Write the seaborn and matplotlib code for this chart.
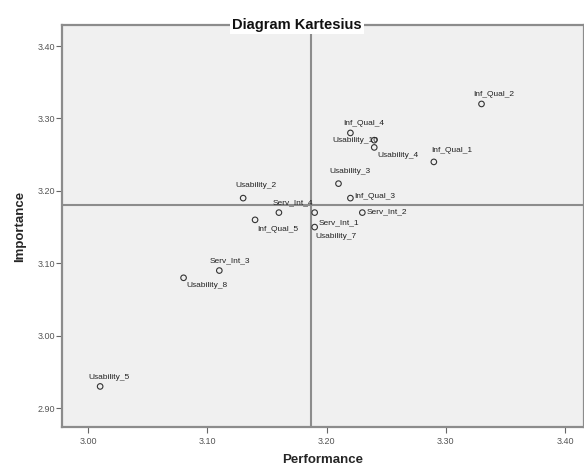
import matplotlib
matplotlib.use("Agg")
import matplotlib.pyplot as plt
import seaborn as sns
import pandas as pd
from matplotlib.ticker import FormatStrFormatter

# ---- data ----
attributes = ["Inf_Qual_2", "Inf_Qual_4", "Usability_10", "Usability_4", "Inf_Qual_1",
              "Usability_3", "Inf_Qual_3", "Serv_Int_2", "Serv_Int_1", "Usability_7",
              "Serv_Int_4", "Usability_2", "Inf_Qual_5", "Serv_Int_3", "Usability_8",
              "Usability_5"]
performance = [3.33, 3.22, 3.24, 3.24, 3.29, 3.21, 3.22, 3.23, 3.19, 3.19,
               3.16, 3.13, 3.14, 3.11, 3.08, 3.01]
importance = [3.32, 3.28, 3.27, 3.26, 3.24, 3.21, 3.19, 3.17, 3.17, 3.15,
              3.17, 3.19, 3.16, 3.09, 3.08, 2.93]
x_ticks = [3.00, 3.10, 3.20, 3.30, 3.40]
y_ticks = [2.90, 3.00, 3.10, 3.20, 3.30, 3.40]

df = pd.DataFrame({"Attribute": attributes, "Performance": performance,
                   "Importance": importance})

# label placement (pixel offsets from point, horizontal alignment)
label_pos = {
    "Inf_Qual_2": (12, 9, "center"),
    "Inf_Qual_4": (13, 9, "center"),
    "Usability_10": (4, 0, "right"),
    "Usability_4": (24, -8, "center"),
    "Inf_Qual_1": (18, 11, "center"),
    "Usability_3": (11, 12, "center"),
    "Inf_Qual_3": (4, 2, "left"),
    "Serv_Int_2": (4, 1, "left"),
    "Serv_Int_1": (4, -10, "left"),
    "Usability_7": (1, -9, "left"),
    "Serv_Int_4": (14, 10, "center"),
    "Usability_2": (13, 13, "center"),
    "Inf_Qual_5": (2, -10, "left"),
    "Serv_Int_3": (11, 10, "center"),
    "Usability_8": (3, -8, "left"),
    "Usability_5": (9, 9, "center"),
}

sns.set_style("white")
plt.rcParams["font.family"] = ["Liberation Sans", "DejaVu Sans"]

W, H = 584, 468
fig = plt.figure(figsize=(W / 100, H / 100), dpi=100)
ax = fig.add_axes([62 / W, 1 - 427 / H, (584 - 62) / W, (427 - 25) / H])
ax.set_facecolor("#f0f0f0")

line_col = "#8c8c8c"
ax.axvline(df["Performance"].mean(), color=line_col, lw=1.5, zorder=1)
ax.axhline(df["Importance"].mean(), color=line_col, lw=1.5, zorder=1)

sns.scatterplot(data=df, x="Performance", y="Importance", ax=ax,
                marker="o", s=16, facecolor="none", edgecolor="#333333",
                linewidth=0.8, zorder=3)

for name, px, py in zip(df["Attribute"], df["Performance"], df["Importance"]):
    dx, dy, ha = label_pos[name]
    ax.annotate(name, (px, py), xytext=(dx * 0.72, dy * 0.72),
                textcoords="offset points", ha=ha, va="center",
                fontsize=6, color="#222222", zorder=4)

ax.set_xlim(2.978, 3.416)
ax.set_ylim(2.874, 3.429)
ax.set_xticks(x_ticks)
ax.set_yticks(y_ticks)
ax.xaxis.set_major_formatter(FormatStrFormatter("%.2f"))
ax.yaxis.set_major_formatter(FormatStrFormatter("%.2f"))
ax.tick_params(axis="both", which="major", labelsize=6.5, labelcolor="#555555",
               length=4, width=0.8, color="#666666", direction="out")
ax.tick_params(axis="x", bottom=True, pad=3)
ax.tick_params(axis="y", left=True, pad=1)

for side in ["left", "bottom", "top", "right"]:
    ax.spines[side].set_color(line_col)
    ax.spines[side].set_linewidth(1.6)

ax.set_xlabel("Performance", fontsize=9.5, fontweight="bold", labelpad=6)
ax.set_ylabel("Importance", fontsize=9.5, fontweight="bold", labelpad=8)

fig.text(297 / W, 1 - 25 / H, "Diagram Kartesius", ha="center", va="center",
         fontsize=10.5, fontweight="bold", color="#111111",
         bbox=dict(facecolor="white", edgecolor="none", pad=1.5))

fig.savefig("out.png", dpi=100, facecolor="white")
